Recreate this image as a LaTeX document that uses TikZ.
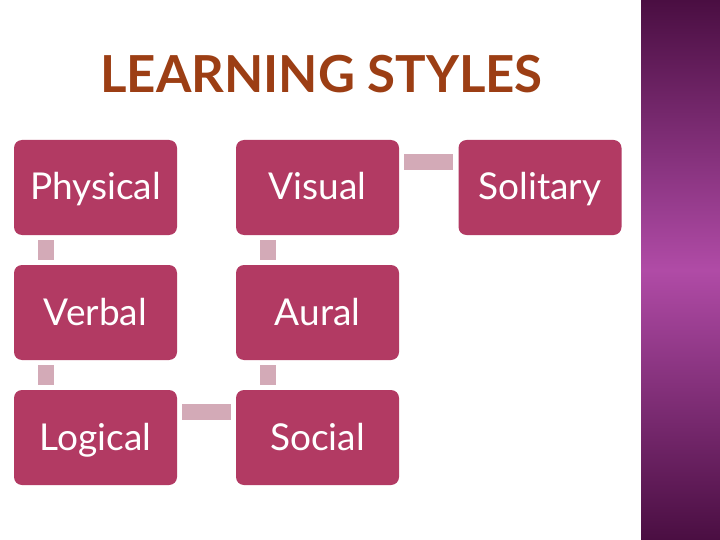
\documentclass[tikz,border=0pt]{standalone}
\usepackage{fontspec}
\setmainfont{Lato}
\usepackage{tikz}
\definecolor{boxred}{HTML}{B23A63}
\definecolor{linkpink}{HTML}{D3AAB7}
\definecolor{titlebrown}{HTML}{9C3E14}
\definecolor{stripdark}{HTML}{4A0E42}
\definecolor{stripmid}{HTML}{B04BA6}
\tikzset{
  stylebox/.style={fill=boxred, rounded corners=8pt, minimum width=163pt, minimum height=95pt,
    text=white, font=\fontsize{37}{42}\selectfont, inner sep=0pt, text height=27pt, text depth=2pt},
  link/.style={draw=linkpink, line width=16pt, shorten >=5pt, shorten <=5pt}
}
\begin{document}
\begin{tikzpicture}[x=1pt,y=-1pt]
\useasboundingbox (0,0) rectangle (720,540);
\fill[white] (0,0) rectangle (720,540);
\shade[top color=stripdark, bottom color=stripdark, middle color=stripmid] (641,0) rectangle (720,540);
\node[text=titlebrown, font=\bfseries\fontsize{51}{57}\selectfont] (title) at (321.5,74) {LEARNING STYLES};
\node[stylebox] (phys) at (95.5,187.5) {Physical};
\node[stylebox] (vis) at (317.5,187.5) {Visual};
\node[stylebox] (sol) at (540,187.5) {Solitary};
\node[stylebox] (verb) at (95.5,312.5) {Verbal};
\node[stylebox] (aur) at (317.5,312.5) {Aural};
\node[stylebox] (logi) at (95.5,437.5) {Logical};
\node[stylebox] (soc) at (317.5,437.5) {Social};
% connectors
\draw[link] ([xshift=32pt]phys.south west) -- ([xshift=32pt]verb.north west);
\draw[link] ([xshift=32pt]verb.south west) -- ([xshift=32pt]logi.north west);
\draw[link] ([xshift=32pt]vis.south west) -- ([xshift=32pt]aur.north west);
\draw[link] ([xshift=32pt]aur.south west) -- ([xshift=32pt]soc.north west);
\draw[link] ([yshift=-22pt]vis.north east) -- ([yshift=-22pt]sol.north west);
\draw[link] ([yshift=-22pt]logi.north east) -- ([yshift=-22pt]soc.north west);
\end{tikzpicture}
\end{document}
